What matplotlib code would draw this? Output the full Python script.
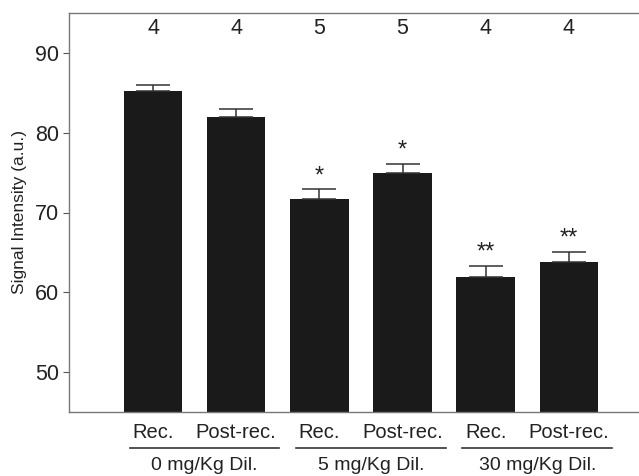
import matplotlib
matplotlib.use("Agg")
import matplotlib.pyplot as plt
import numpy as np

plt.rcParams['font.family'] = ['Liberation Sans', 'DejaVu Sans']

conditions = ["Rec.", "Post-rec.", "Rec.", "Post-rec.", "Rec.", "Post-rec."]
groups = ["0 mg/Kg Dil.", "5 mg/Kg Dil.", "30 mg/Kg Dil."]
means = [85.2, 82.0, 71.7, 75.0, 61.9, 63.8]
errors = [0.8, 1.0, 1.2, 1.1, 1.4, 1.3]
n_values = ["4", "4", "5", "5", "4", "4"]
significance = ["", "", "*", "*", "**", "**"]

W, H = 639, 476
fig = plt.figure(figsize=(W / 100, H / 100), dpi=100)
ax = fig.add_axes([69 / W, (H - 412) / H, (W - 69) / W + 0.01, (412 - 13) / H])

x = np.arange(len(means))
txt = '#222222'
ax.bar(x, means, width=0.705, color='#1a1a1a', zorder=2)
ax.errorbar(x, means, yerr=[np.zeros(len(errors)), errors], fmt='none',
            ecolor='#333333', elinewidth=1.1, capsize=12, capthick=1.1, zorder=3)

for xi, m, e, s in zip(x, means, errors, significance):
    if s:
        ax.text(xi, m + e + 0.25, s, ha='center', va='bottom', fontsize=17, color=txt)

for xi, n in zip(x, n_values):
    ax.text(xi, 93.0, n, ha='center', va='center', fontsize=15.5, color=txt)

ax.set_xlim(-1.01, 5.92)
ax.set_ylim(45, 95)
ax.set_yticks([50, 60, 70, 80, 90])
ax.tick_params(axis='y', labelsize=15.5, length=4, width=0.8, colors='#555555', labelcolor=txt, pad=3)
ax.set_xticks([])
ax.set_ylabel("Signal Intensity (a.u.)", fontsize=12.5, color=txt, labelpad=6)
for side in ['left', 'bottom', 'top']:
    ax.spines[side].set_color('#777777')
    ax.spines[side].set_linewidth(1.0)
ax.spines['right'].set_visible(False)

tr = ax.get_xaxis_transform()
axh = 412 - 13
for xi, c in zip(x, conditions):
    ax.text(xi, -21 / axh, c, transform=tr, ha='center', va='center', fontsize=14.5, color=txt, clip_on=False)
for gi, g in enumerate(groups):
    start = 2 * gi
    ax.plot([start - 0.28, start + 1.52], [-36 / axh, -36 / axh], transform=tr,
            color='#333333', lw=1.2, clip_on=False)
    ax.text(start + 0.62, -54 / axh, g, transform=tr, ha='center', va='center',
            fontsize=14, color=txt, clip_on=False)

fig.savefig("out.png", dpi=100)
